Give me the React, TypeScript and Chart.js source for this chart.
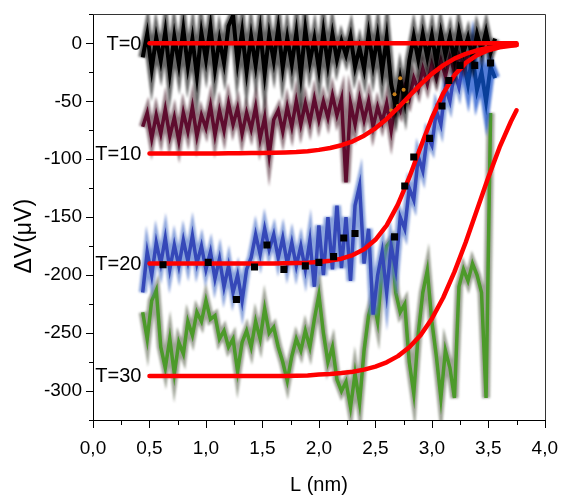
import React, { useEffect, useRef } from "react";
import { Chart, registerables } from "chart.js";

Chart.register(...registerables);

// Shared sampling grid of the measured traces (L in nm)
const L_GRID = [
  0.44, 0.48, 0.52, 0.56, 0.6, 0.64, 0.68, 0.72, 0.76, 0.8,
  0.84, 0.88, 0.92, 0.96, 1.0, 1.04, 1.08, 1.12, 1.16, 1.2,
  1.24, 1.28, 1.32, 1.36, 1.4, 1.44, 1.48, 1.52, 1.56, 1.6,
  1.64, 1.68, 1.72, 1.76, 1.8, 1.84, 1.88, 1.92, 1.96, 2.0,
  2.04, 2.08, 2.12, 2.16, 2.2, 2.24, 2.28, 2.32, 2.36, 2.4,
  2.44, 2.48, 2.52, 2.56, 2.6, 2.64, 2.68, 2.72, 2.76, 2.8,
  2.84, 2.88, 2.92, 2.96, 3.0, 3.04, 3.08, 3.12, 3.16, 3.2,
  3.24, 3.28, 3.32, 3.36, 3.4, 3.44, 3.48, 3.52, 3.56,
];

// Measured traces (ΔV in µV)
const TRACE_T0 = [
  -12, 8, -22, 5, -15, 10, -25, 6, -18, 12,
  -20, 4, -28, 9, -14, 14, -22, 3, -17, 15,
  24, -16, 10, -24, 6, -19, 11, -26, 7, -15,
  13, -21, 5, -18, 9, -27, 12, -16, 4, -22,
  10, -18, 8, -14, 2, -10, 6, -20, -4, -22,
  8, -18, 6, -24, 5, -35, -55, -30, -50, -15,
  6, -14, 8, -12, 7, -16, 9, -10, 6, -14,
  10, -8, 5, -12, 8, -6, 10, -8, 4,
];

const TRACE_T10 = [
  -72, -60, -82, -62, -78, -57, -80, -64, -84, -60,
  -76, -55, -80, -62, -73, -54, -79, -58, -75, -52,
  -70, -56, -78, -60, -74, -55, -82, -64, -96, -66,
  -58, -76, -55, -72, -50, -70, -52, -68, -48, -66,
  -50, -64, -45, -62, -48, -120, -52, -70, -48, -66,
  -50, -72, -55, -68, -52, -75, -50, -58, -38, -48,
  -30, -40, -22, -35, -18, -30, -15, -28, -12, -24,
  -10, -20, -8, null, null, null, null, null, null,
];

const TRACE_T20 = [
  -215, -180, -200, -172, -190, -168, -195, -174, -192, -170,
  -188, -166, -190, -175, -195, -180, -203, -186, -210, -192,
  -215, -200, -222, -195, -185, -165, -182, -160, -178, -165,
  -185, -168, -190, -172, -192, -175, -195, -170, -210, -157,
  -200, -150, -195, -140, -194, -150, -205, -140, -123, -190,
  -160, -234, -200, -180, -215, -175, -195, -150, -160, -125,
  -135, -98, -110, -80, -88, -58, -70, -38, -50, -25,
  -38, -15, null, null, null, null, null, null, null,
];

const TAIL_L = [3.28, 3.32, 3.36, 3.4, 3.44, 3.48, 3.52, 3.56];
const TAIL_T20 = [-15, -35, -10, -40, -25, -50, -20, -30];

const TRACE_T30 = [
  -232, -255, -222, -213, -262, -280, -255, -285, -258, -268,
  -240, -252, -232, -240, -222, -238, -235, -255, -248, -262,
  -255, -283, -258, -248, -262, -240, -255, -229, -250, -245,
  -262, -275, -291, -270, -255, -265, -248, -262, -238, -217,
  -250, -275, -262, -290, -300, -292, -314, -285, -310, -265,
  -235, -220, -240, -195, -175, -170, -215, -232, -225, -275,
  -302, -250, -215, -196, -240, -270, -306, -265, -280, -306,
  -210, -195, -205, -190, -200, -215, -306, -60, null,
];

const ORANGE_L = [2.64, 2.67, 2.7, 2.72, 2.75, 2.78];
const ORANGE_V = [-58, -44, -54, -30, -40, -50];

// Black squares (T=20 points)
const SQ_L = [0.62, 1.02, 1.27, 1.43, 1.54, 1.69, 1.88, 2.0, 2.13, 2.22, 2.32, 2.67, 2.76, 2.84, 2.98, 3.09, 3.15, 3.25, 3.38, 3.52];
const SQ_V = [-191, -189, -221, -193, -174, -195, -192, -189, -184, -168, -164, -167, -123, -98, -82, -54, -32, -19, -19, -17];

// Fitted curves
const FIT_L = [
  0.5, 0.6, 0.7, 0.8, 0.9, 1.0, 1.1, 1.2, 1.3, 1.4, 1.5, 1.6, 1.7, 1.8, 1.9, 2.0, 2.1,
  2.2, 2.3, 2.4, 2.5, 2.6, 2.7, 2.8, 2.9, 3.0, 3.1, 3.2, 3.3, 3.4, 3.5, 3.6, 3.7, 3.75,
];
const FIT_T0 = [
  0, 0, 0, 0, 0, 0, 0, 0, 0, 0, 0, 0, 0, 0, 0, 0, 0,
  0, 0, 0, 0, 0, 0, 0, 0, 0, 0, 0, 0, 0, 0, 0, 0, 0,
];
const FIT_T10 = [
  -95, -95, -95, -95, -95, -95, -95, -94.9, -94.8, -94.7, -94.6, -94.4, -94.1, -93.7, -93.0, -91.9, -90.3,
  -87.9, -84.5, -79.7, -73.3, -65.2, -55.7, -45.4, -35.4, -26.3, -19.0, -13.1, -9.0, -6.0, -4.0, -2.6, -1.7, -1.4,
];
const FIT_T20 = [
  -190, -190, -190, -190, -190, -190, -190, -190, -190, -190, -190, -190, -189.8, -189.5, -189.2, -188.6, -187.5,
  -185.8, -182.7, -177.7, -169.5, -157.0, -138.9, -115.7, -89.7, -64.4, -43.3, -27.4, -16.9, -10.1, -5.9, -3.4, -2.0, -1.5,
];
const FIT_T30 = [
  -287, -287, -287, -287, -287, -287, -287, -287, -287, -287, -287, -287, -287, -286.8, -286.5, -285.8, -285.3,
  -284.5, -283.3, -281.5, -278.9, -275.2, -269.9, -262.3, -251.8, -237.6, -219.5, -197.2, -171.6, -143.5, -115.6, -89.6, -67.4, -57.7,
];

const CURVE_LABELS = ["T=0", "T=10", "T=20", "T=30"];

const X_MIN = 0;
const X_MAX = 4;
const Y_MIN = -325;
const Y_MAX = 25;

const FONT = "'Liberation Sans', Arial, sans-serif";

function pts(xs: number[], ys: (number | null)[]) {
  return xs.map((x, i) => ({ x, y: ys[i] }));
}

function isMult(v: number, step: number) {
  const r = v / step;
  return Math.abs(r - Math.round(r)) < 1e-6;
}

const blurPlugin = {
  id: "blurHalo",
  beforeDatasetDraw(chart: any, args: any) {
    const ds = chart.data.datasets[args.index];
    chart.ctx.save();
    if (ds.blur) chart.ctx.filter = `blur(${ds.blur}px)`;
  },
  afterDatasetDraw(chart: any) {
    chart.ctx.restore();
  },
};

const decorPlugin = {
  id: "decor",
  afterDraw(chart: any) {
    const { ctx, chartArea } = chart;
    const { left, right, top, bottom } = chartArea;
    const xs = chart.scales.x;
    const ys = chart.scales.y;
    ctx.save();
    ctx.strokeStyle = "#000";
    ctx.lineWidth = 1;
    xs.ticks.forEach((t: any) => {
      const px = Math.round(xs.getPixelForValue(t.value)) + 0.5;
      const len = isMult(t.value, 0.5) ? 8 : 5;
      ctx.beginPath();
      ctx.moveTo(px, bottom);
      ctx.lineTo(px, bottom + len);
      ctx.stroke();
    });
    ys.ticks.forEach((t: any) => {
      const py = Math.round(ys.getPixelForValue(t.value)) + 0.5;
      const len = isMult(t.value, 50) ? 7 : 4;
      ctx.beginPath();
      ctx.moveTo(left, py);
      ctx.lineTo(left - len, py);
      ctx.stroke();
    });
    // frame top / right
    ctx.strokeStyle = "#333";
    ctx.beginPath();
    ctx.moveTo(left, Math.round(top) + 0.5);
    ctx.lineTo(Math.round(right) + 0.5, Math.round(top) + 0.5);
    ctx.lineTo(Math.round(right) + 0.5, bottom);
    ctx.stroke();

    // axis titles
    ctx.fillStyle = "#000";
    ctx.textAlign = "center";
    ctx.textBaseline = "middle";
    ctx.font = `20px ${FONT}`;
    ctx.fillText("L (nm)", (left + right) / 2, 485);
    ctx.save();
    ctx.translate(25, (top + bottom) / 2 + 19);
    ctx.rotate(-Math.PI / 2);
    ctx.font = `23px ${FONT}`;
    ctx.fillText("\u0394V(\u03bcV)", 0, 0);
    ctx.restore();

    // curve labels, anchored at the start of each fit
    const fits = [FIT_T0, FIT_T10, FIT_T20, FIT_T30];
    ctx.font = `20px ${FONT}`;
    ctx.textAlign = "right";
    CURVE_LABELS.forEach((lab, i) => {
      const px = xs.getPixelForValue(FIT_L[0]) - 8;
      const py = ys.getPixelForValue(fits[i][0]) + 1;
      ctx.fillText(lab, px, py);
    });
    ctx.restore();
  },
};

function traceSets(xs: number[], ys: (number | null)[], core: string, halo: string, coreWidth = 3.5, haloWidth = 8) {
  return [
    {
      data: pts(xs, ys),
      showLine: true,
      borderColor: core,
      borderWidth: coreWidth,
      pointRadius: 0,
      tension: 0,
      spanGaps: false,
      blur: 0.5,
    },
    {
      data: pts(xs, ys),
      showLine: true,
      borderColor: halo,
      borderWidth: haloWidth,
      pointRadius: 0,
      tension: 0,
      spanGaps: false,
      blur: 1.2,
    },
  ];
}

function fitSet(ys: number[]) {
  return {
    data: pts(FIT_L, ys),
    showLine: true,
    borderColor: "#ff0000",
    borderWidth: 4.5,
    borderCapStyle: "round",
    borderJoinStyle: "round",
    pointRadius: 0,
    tension: 0,
  };
}

export default function App() {
  const ref = useRef<HTMLCanvasElement>(null);

  useEffect(() => {
    if (!ref.current) return;
    const datasets: any[] = [
      {
        data: pts(SQ_L, SQ_V),
        showLine: false,
        pointStyle: "rect",
        pointRadius: 5,
        backgroundColor: "#000",
        borderWidth: 0,
      },
      fitSet(FIT_T0),
      fitSet(FIT_T10),
      fitSet(FIT_T20),
      fitSet(FIT_T30),
      {
        data: pts(ORANGE_L, ORANGE_V),
        showLine: false,
        pointRadius: 2,
        backgroundColor: "#c8801a",
        borderWidth: 0,
      },
      ...traceSets(L_GRID, TRACE_T0, "#000000", "rgba(0,0,0,0.6)", 4, 9),
      ...traceSets(L_GRID, TRACE_T10, "#5e0c2e", "rgba(60,15,30,0.55)"),
      ...traceSets(TAIL_L, TAIL_T20, "#0a3f9a", "rgba(10,70,200,0.7)", 4, 10),
      ...traceSets(L_GRID, TRACE_T20, "#3548b8", "rgba(90,125,205,0.7)"),
      ...traceSets(L_GRID, TRACE_T30, "#4c9a2a", "rgba(80,90,65,0.55)"),
    ];

    const chart = new Chart(ref.current, {
      type: "scatter",
      data: { datasets },
      plugins: [blurPlugin, decorPlugin],
      options: {
        animation: false,
        responsive: true,
        maintainAspectRatio: false,
        events: [],
        layout: { padding: { left: 0, right: 17, top: 10, bottom: 0 } },
        plugins: { legend: { display: false }, tooltip: { enabled: false } },
        scales: {
          x: {
            type: "linear",
            min: X_MIN,
            max: X_MAX,
            afterFit: (s: any) => {
              s.height = 78;
            },
            ticks: {
              stepSize: 0.25,
              autoSkip: false,
              maxRotation: 0,
              color: "#000",
              padding: 9,
              font: { family: FONT, size: 19 },
              callback: (v: any) => (isMult(Number(v), 0.5) ? Number(v).toFixed(1).replace(".", ",") : ""),
            },
            grid: { drawOnChartArea: false, tickLength: 8, tickColor: "transparent" },
            border: { display: true, color: "#000", width: 1 },
          },
          y: {
            type: "linear",
            min: Y_MIN,
            max: Y_MAX,
            afterFit: (s: any) => {
              s.width = 93;
            },
            ticks: {
              stepSize: 25,
              autoSkip: false,
              color: "#000",
              padding: 3,
              font: { family: FONT, size: 19 },
              callback: (v: any) => (isMult(Number(v), 50) ? String(v) : ""),
            },
            grid: { drawOnChartArea: false, tickLength: 8, tickColor: "transparent" },
            border: { display: true, color: "#000", width: 1 },
          },
        },
      } as any,
    });
    return () => chart.destroy();
  }, []);

  return (
    <div style={{ position: "absolute", left: 0, top: 0, width: 567, height: 498, background: "#fff" }}>
      <canvas ref={ref} />
    </div>
  );
}
